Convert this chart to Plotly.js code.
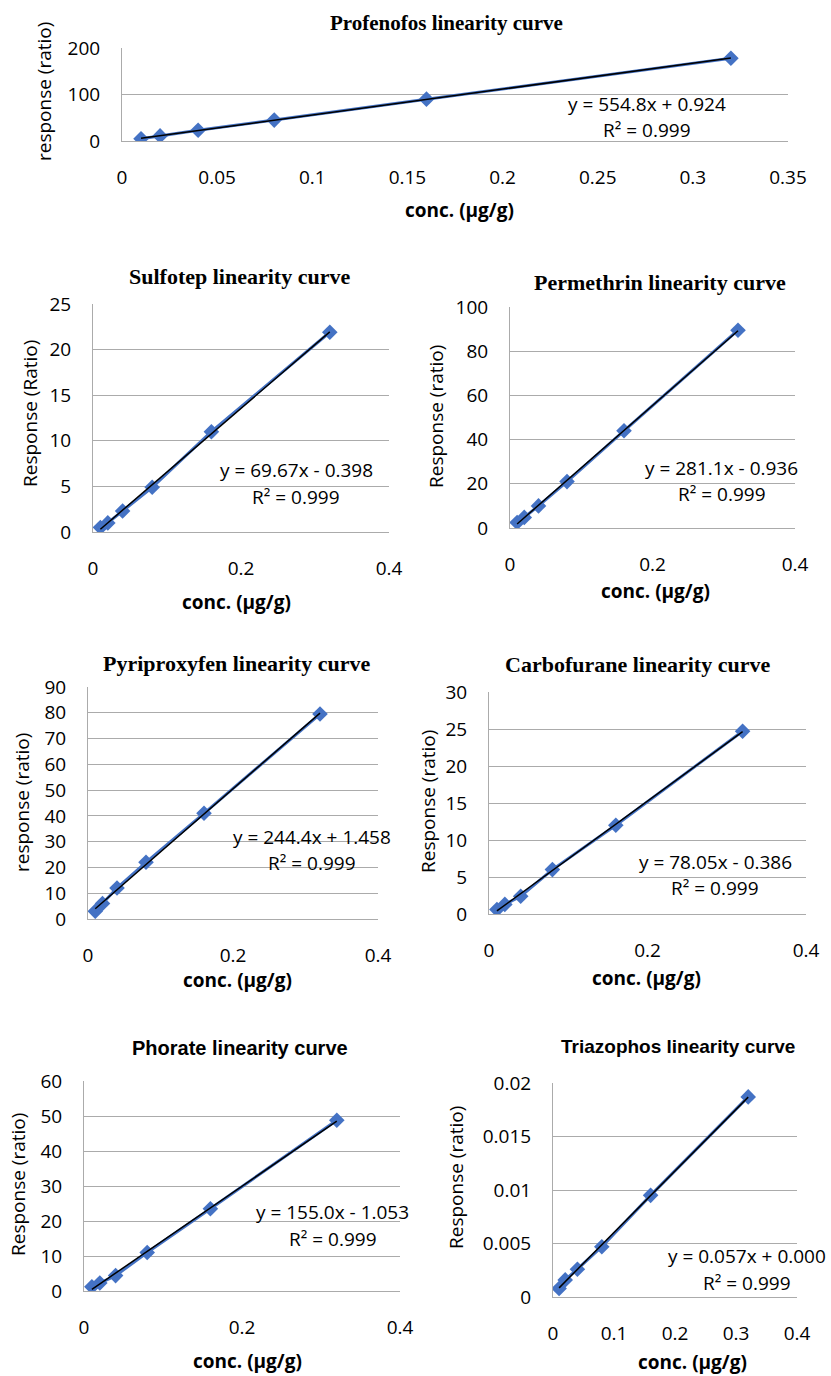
<!DOCTYPE html>
<html>
<head>
<meta charset="utf-8">
<script src="https://cdn.plot.ly/plotly-3.0.1.min.js"></script>
<style>html,body{margin:0;padding:0;background:#fff;}#chart{width:831px;height:1376px;}</style>
</head>
<body>
<div id="chart"></div>
<script>
// ---- data ----
const conc = [0.01, 0.02, 0.04, 0.08, 0.16, 0.32];
const names = ["Profenofos", "Sulfotep", "Permethrin", "Pyriproxyfen", "Carbofurane", "Phorate", "Triazophos"];
const profenofos = [5, 11, 23, 45, 90, 178];
const sulfotep = [0.5, 1.0, 2.3, 4.9, 11.0, 21.9];
const permethrin = [2.5, 4.8, 10, 21, 44, 89.5];
const pyriproxyfen = [3, 6, 12, 22, 41, 79.5];
const carbofurane = [0.6, 1.3, 2.4, 6, 12, 24.7];
const phorate = [1.2, 2.3, 4.4, 11, 23.5, 48.8];
const triazophos = [0.0008, 0.0016, 0.0026, 0.0047, 0.0095, 0.0187];
const equations = ["y = 554.8x + 0.924", "y = 69.67x - 0.398", "y = 281.1x - 0.936", "y = 244.4x + 1.458", "y = 78.05x - 0.386", "y = 155.0x - 1.053", "y = 0.057x + 0.000"];
const r2Text = "R² = 0.999";
const yTitles = ["response (ratio)", "Response (Ratio)", "Response (ratio)", "response (ratio)", "Response (ratio)", "Response (ratio)", "Response (ratio)"];
const xTitle = "conc. (µg/g)";
const yMax = [200, 25, 100, 90, 30, 60, 0.02];
const yStep = [100, 5, 20, 10, 5, 10, 0.005];
const xMax = [0.35, 0.4, 0.4, 0.4, 0.4, 0.4, 0.4];
const xStep = [0.05, 0.2, 0.2, 0.2, 0.2, 0.2, 0.1];
const series = [profenofos, sulfotep, permethrin, pyriproxyfen, carbofurane, phorate, triazophos];

// least-squares linear trendline of a series
function fit(xs, ys) {
  const n = xs.length;
  const mx = xs.reduce((a, b) => a + b, 0) / n;
  const my = ys.reduce((a, b) => a + b, 0) / n;
  let sxy = 0, sxx = 0;
  for (let k = 0; k < n; k++) { sxy += (xs[k] - mx) * (ys[k] - my); sxx += (xs[k] - mx) ** 2; }
  const m = sxy / sxx;
  return {m: m, b: my - m * mx};
}

// ---- layout geometry (pixels) ----
const W = 831, H = 1376;
const boxes = [ // [left, top, right, bottom]
  [122, 48, 788, 141],
  [93, 304, 389, 532],
  [510, 307, 795, 528],
  [88, 687, 378, 919],
  [489, 692, 806, 914],
  [84, 1081, 400, 1291],
  [553, 1083, 797, 1297]
];
const titlePos = [[446, 23], [239, 277], [660, 283], [236, 663], [637, 664], [240, 1048], [678, 1046]];
const titleSerif = [true, true, true, true, true, false, false];
const titleSize = [21, 22, 22, 22, 22, 20, 19];
const xTitlePos = [[459, 210], [236, 602], [655, 591], [237, 980], [646, 978], [247, 1361], [692, 1362]];
const yTitlePos = [[44, 92], [30, 414], [436, 417], [22, 803], [428, 802], [18, 1185], [456, 1178]];
const eqPos = [[647, 104], [296, 470], [721, 468], [312, 837], [715, 862], [332, 1212], [747, 1256]];
const r2Pos = [[647, 130], [296, 497], [722, 494], [312, 863], [715, 888], [333, 1239], [747, 1283]];

const px = x => x / W;
const py = y => 1 - y / H;
const GRID = '#ABABAB';
const BLUE = '#4472C4';
const SANS = '"Open Sans", "Liberation Sans", sans-serif';
const SERIF = '"Liberation Serif", "DejaVu Serif", serif';

const traces = [];
const layout = {
  width: W, height: H,
  margin: {l: 0, r: 0, t: 0, b: 0},
  paper_bgcolor: '#fff', plot_bgcolor: '#fff',
  showlegend: false,
  annotations: []
};

series.forEach((ys, i) => {
  const sfx = i === 0 ? '' : String(i + 1);
  const xa = 'x' + sfx, ya = 'y' + sfx;
  traces.push({
    x: conc, y: ys, xaxis: xa, yaxis: ya, type: 'scatter', mode: 'lines+markers',
    line: {color: BLUE, width: 3},
    marker: {symbol: 'diamond', size: 12, color: BLUE},
    hoverinfo: 'skip'
  });
  const f = fit(conc, ys);
  const x0 = conc[0], x1 = conc[conc.length - 1];
  traces.push({
    x: [x0, x1], y: [f.m * x0 + f.b, f.m * x1 + f.b],
    xaxis: xa, yaxis: ya, type: 'scatter', mode: 'lines',
    line: {color: '#000', width: 1.5}, hoverinfo: 'skip'
  });
  const b = boxes[i];
  const tickFont = {family: SANS, size: 19, color: '#000'};
  layout['xaxis' + sfx] = {
    domain: [px(b[0]), px(b[2])], anchor: ya,
    range: [0, xMax[i]], dtick: xStep[i], tick0: 0,
    showgrid: false, zeroline: false, showline: true, linecolor: GRID, linewidth: 1,
    ticks: '', tickfont: tickFont, ticklabelstandoff: 19, fixedrange: true
  };
  layout['yaxis' + sfx] = {
    domain: [py(b[3]), py(b[1])], anchor: xa,
    range: [0, yMax[i]], dtick: yStep[i], tick0: 0,
    showgrid: true, gridcolor: GRID, gridwidth: 1,
    zeroline: false, showline: true, linecolor: GRID, linewidth: 1,
    ticks: '', tickfont: tickFont, ticklabelstandoff: 17, fixedrange: true
  };
  const ann = layout.annotations;
  ann.push({
    text: '<b>' + names[i] + ' linearity curve</b>', xref: 'paper', yref: 'paper',
    x: px(titlePos[i][0]), y: py(titlePos[i][1]), xanchor: 'center', yanchor: 'middle', showarrow: false,
    font: {family: titleSerif[i] ? SERIF : '"Liberation Sans", sans-serif', size: titleSize[i], color: '#000'}
  });
  ann.push({
    text: '<b>' + xTitle + '</b>', xref: 'paper', yref: 'paper',
    x: px(xTitlePos[i][0]), y: py(xTitlePos[i][1]), xanchor: 'center', yanchor: 'middle', showarrow: false,
    font: {family: SANS, size: 19, color: '#000'}
  });
  ann.push({
    text: yTitles[i], xref: 'paper', yref: 'paper', textangle: -90,
    x: px(yTitlePos[i][0]), y: py(yTitlePos[i][1]), xanchor: 'center', yanchor: 'middle', showarrow: false,
    font: {family: SANS, size: 19, color: '#000'}
  });
  ann.push({
    text: equations[i], xref: 'paper', yref: 'paper',
    x: px(eqPos[i][0]), y: py(eqPos[i][1]), xanchor: 'center', yanchor: 'middle', showarrow: false,
    font: {family: SANS, size: 19, color: '#000'}
  });
  ann.push({
    text: r2Text, xref: 'paper', yref: 'paper',
    x: px(r2Pos[i][0]), y: py(r2Pos[i][1]), xanchor: 'center', yanchor: 'middle', showarrow: false,
    font: {family: SANS, size: 19, color: '#000'}
  });
});

Plotly.newPlot('chart', traces, layout, {staticPlot: true, displayModeBar: false});
</script>
</body>
</html>
